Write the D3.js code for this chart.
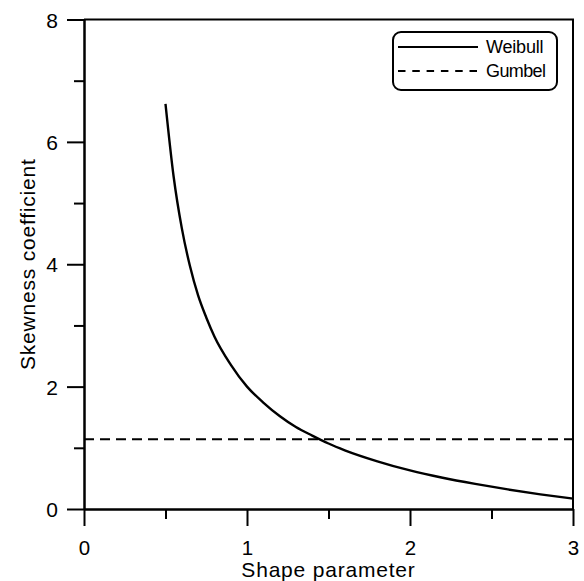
<!DOCTYPE html>
<html>
<head>
<meta charset="utf-8">
<script src="https://cdn.jsdelivr.net/npm/d3@7"></script>
<style>
  html, body { margin: 0; padding: 0; background: #fff; }
  svg { display: block; font-family: "Liberation Sans", Arial, sans-serif; }
</style>
</head>
<body>
<svg id="chart" width="584" height="581"></svg>
<script>
// ---- data ----
const shapeValues = [0.5, 0.55, 0.6, 0.65, 0.7, 0.75, 0.8, 0.9, 1.0, 1.1, 1.2, 1.3, 1.4, 1.5, 1.6, 1.8, 2.0, 2.2, 2.4, 2.6, 2.8, 3.0];
const weibullSkew = [6.62, 5.43, 4.59, 3.97, 3.49, 3.13, 2.82, 2.36, 2.00, 1.74, 1.52, 1.34, 1.20, 1.07, 0.96, 0.78, 0.63, 0.51, 0.41, 0.32, 0.24, 0.17];
const gumbelSkew = 1.14;
const xDomain = [0, 3];
const yDomain = [0, 8];
const xMajorTicks = [0, 1, 2, 3];
const xMinorTicks = [0.5, 1.5, 2.5];
const yMajorTicks = [0, 2, 4, 6, 8];
const yMinorTicks = [1, 3, 5, 7];
const seriesNames = ["Weibull", "Gumbel"];
const xTitle = "Shape parameter";
const yTitle = "Skewness coefficient";

// ---- layout ----
const L = 84, R = 573, T = 19.5, B = 509;
const svg = d3.select("#chart");
const x = d3.scaleLinear().domain(xDomain).range([L, R]);
const y = d3.scaleLinear().domain(yDomain).range([B, T]);

function styleAxis(g, fs) {
  g.attr("font-family", "'Liberation Sans', Arial, sans-serif");
  g.select(".domain").attr("stroke", "#000").attr("stroke-width", 2);
  g.selectAll(".tick line").attr("stroke", "#000").attr("stroke-width", 2);
  g.selectAll(".tick text").attr("fill", "#000").attr("font-size", fs || 20);
}

// minor ticks
svg.append("g").attr("transform", `translate(0,${B})`)
  .call(d3.axisBottom(x).tickValues(xMinorTicks).tickSize(10).tickSizeOuter(0).tickFormat(""))
  .call(styleAxis);
svg.append("g").attr("transform", `translate(${L},0)`)
  .call(d3.axisLeft(y).tickValues(yMinorTicks).tickSize(10).tickSizeOuter(0).tickFormat(""))
  .call(styleAxis);

// major ticks
svg.append("g").attr("transform", `translate(0,${B})`)
  .call(d3.axisBottom(x).tickValues(xMajorTicks).tickSize(17).tickSizeOuter(0).tickPadding(14).tickFormat(d3.format("d")))
  .call(g => styleAxis(g, 20.5));
const yAxis = svg.append("g").attr("transform", `translate(${L},0)`)
  .call(d3.axisLeft(y).tickValues(yMajorTicks).tickSize(17).tickSizeOuter(0).tickPadding(9).tickFormat(d3.format("d")))
  .call(g => styleAxis(g, 21));
yAxis.selectAll(".tick text").attr("dy", "0.36em");

// frame top / right
svg.append("line").attr("x1", L).attr("x2", R + 1).attr("y1", T).attr("y2", T)
  .attr("stroke", "#000").attr("stroke-width", 2);
svg.append("line").attr("x1", R).attr("x2", R).attr("y1", T).attr("y2", B)
  .attr("stroke", "#000").attr("stroke-width", 2);

// Gumbel dashed line
svg.append("line")
  .attr("x1", x(xDomain[0])).attr("x2", x(xDomain[1]))
  .attr("y1", y(gumbelSkew)).attr("y2", y(gumbelSkew))
  .attr("stroke", "#000").attr("stroke-width", 2.2)
  .attr("stroke-dasharray", "10,6");

// Weibull curve
const pts = shapeValues.map((s, i) => [s, weibullSkew[i]]);
svg.append("path")
  .datum(pts)
  .attr("fill", "none")
  .attr("stroke", "#000")
  .attr("stroke-width", 2.4)
  .attr("d", d3.line().x(d => x(d[0])).y(d => y(d[1])).curve(d3.curveMonotoneX));

// axis titles
svg.append("text").attr("x", (L + R) / 2).attr("y", 577)
  .attr("text-anchor", "middle").attr("font-size", 21).attr("letter-spacing", 0.8).text(xTitle);
svg.append("text")
  .attr("transform", `translate(35,${(T + B) / 2}) rotate(-90)`)
  .attr("text-anchor", "middle").attr("font-size", 21).attr("letter-spacing", 0.8).text(yTitle);

// legend
const lg = svg.append("g");
lg.append("rect").attr("x", 393).attr("y", 32).attr("width", 164).attr("height", 58)
  .attr("rx", 8).attr("ry", 8).attr("fill", "#fff").attr("stroke", "#000").attr("stroke-width", 2);
lg.append("line").attr("x1", 398).attr("x2", 478).attr("y1", 47).attr("y2", 47)
  .attr("stroke", "#000").attr("stroke-width", 2);
lg.append("line").attr("x1", 398).attr("x2", 478).attr("y1", 71).attr("y2", 71)
  .attr("stroke", "#000").attr("stroke-width", 2).attr("stroke-dasharray", "7.5,6.8");
lg.append("text").attr("x", 486).attr("y", 53).attr("font-size", 18)
  .attr("letter-spacing", -0.2).text(seriesNames[0]);
lg.append("text").attr("x", 486).attr("y", 77).attr("font-size", 18)
  .attr("letter-spacing", -0.6).text(seriesNames[1]);
</script>
</body>
</html>
